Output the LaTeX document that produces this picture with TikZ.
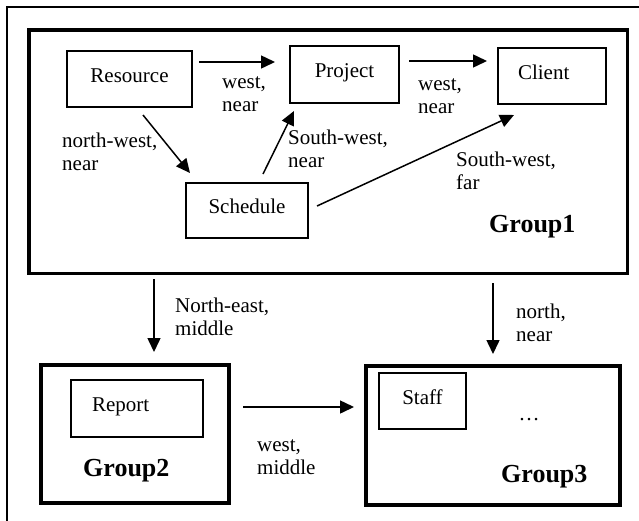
\documentclass[tikz,border=0pt]{standalone}
\usepackage{fontspec}
\setmainfont{Liberation Serif}
\usetikzlibrary{arrows.meta,calc}
\begin{document}
\begin{tikzpicture}[x=1pt,y=-1pt,
  box/.style={draw, line width=1.4pt, inner sep=0pt, outer sep=0pt,
    font=\fontsize{21}{23}\selectfont, text height=15pt, text depth=9pt},
  group/.style={draw, line width=3.8pt, inner sep=0pt, outer sep=0pt},
  arr/.style={line width=1.5pt, -{Triangle[length=14pt,width=13pt]}},
  lab/.style={anchor=north west, inner sep=0pt, align=left,
    font=\fontsize{21}{23}\selectfont},
  gtitle/.style={anchor=base west, inner sep=0pt,
    font=\fontsize{26}{30}\selectfont\bfseries}]
\useasboundingbox (0,0) rectangle (639,520);
% outer frame
\draw[line width=1.6pt] (7,560) -- (7,7) -- (680,7);
% groups
\node[group, minimum width=598.5pt, minimum height=243.5pt] (g1) at (328.25,151.75) {};
\node[group, minimum width=188pt, minimum height=138pt] (g2) at (135,434) {};
\node[group, minimum width=254pt, minimum height=139pt] (g3) at (493,435.5) {};
% boxes
\node[box, minimum width=125pt, minimum height=56pt] (res) at (129.5,79) {Resource};
\node[box, minimum width=109pt, minimum height=57pt] (proj) at (344.5,74.5) {Project};
\node[box, minimum width=108pt, minimum height=56pt, align=left, text width=68pt, inner xsep=20pt] (cli) at (552,76) {Client};
\node[box, minimum width=122pt, minimum height=55pt] (sch) at (247,210.5) {Schedule};
\node[box, minimum width=132pt, minimum height=57pt, align=left, text width=90pt, inner xsep=21pt] (rep) at (137,408.5) {Report};
\node[box, minimum width=87pt, minimum height=56pt] (staff) at (422.5,401) {Staff};
\node[anchor=base, inner sep=0pt, font=\fontsize{21}{23}\selectfont] (dots) at (529,420) {…};
% titles
\node[gtitle] (t1) at (489,232) {Group1};
\node[gtitle] (t2) at (83,476) {Group2};
\node[gtitle] (t3) at (501,482) {Group3};
% arrows
\draw[arr] ($(res.north east)+(7,11)$) -- ($(proj.north west)+(-15,16)$);
\draw[arr] ($(proj.north east)+(10,15)$) -- ($(cli.north west)+(-11,13)$);
\draw[arr] ($(res.south west)+(76,8)$) -- ($(sch.north west)+(4,-10)$);
\draw[arr] ($(sch.north west)+(77,-9)$) -- ($(proj.south west)+(4,8)$);
\draw[arr] ($(sch.north east)+(9,23)$) -- ($(cli.south west)+(16,11)$);
\draw[arr] ($(g1.south west)+(125,5.5)$) -- ($(g2.north west)+(113,-13)$);
\draw[arr] ($(g1.south west)+(464,9.5)$) -- ($(g3.north west)+(127,-12)$);
\draw[arr] ($(g2.north east)+(14,42)$) -- ($(g3.north west)+(-12,41)$);
% edge labels
\node[lab] (l1) at (222,71.9) {\strut west,\\near};
\node[lab] (l2) at (418,73.9) {\strut west,\\near};
\node[lab] (l3) at (62,130.9) {\strut north-west,\\near};
\node[lab] (l4) at (288,127.9) {\strut South-west,\\near};
\node[lab] (l5) at (456,149.9) {\strut South-west,\\far};
\node[lab] (l6) at (175,295.9) {\strut North-east,\\middle};
\node[lab] (l7) at (516,301.9) {\strut north,\\near};
\node[lab] (l8) at (257,434.9) {\strut west,\\middle};
\end{tikzpicture}
\end{document}
